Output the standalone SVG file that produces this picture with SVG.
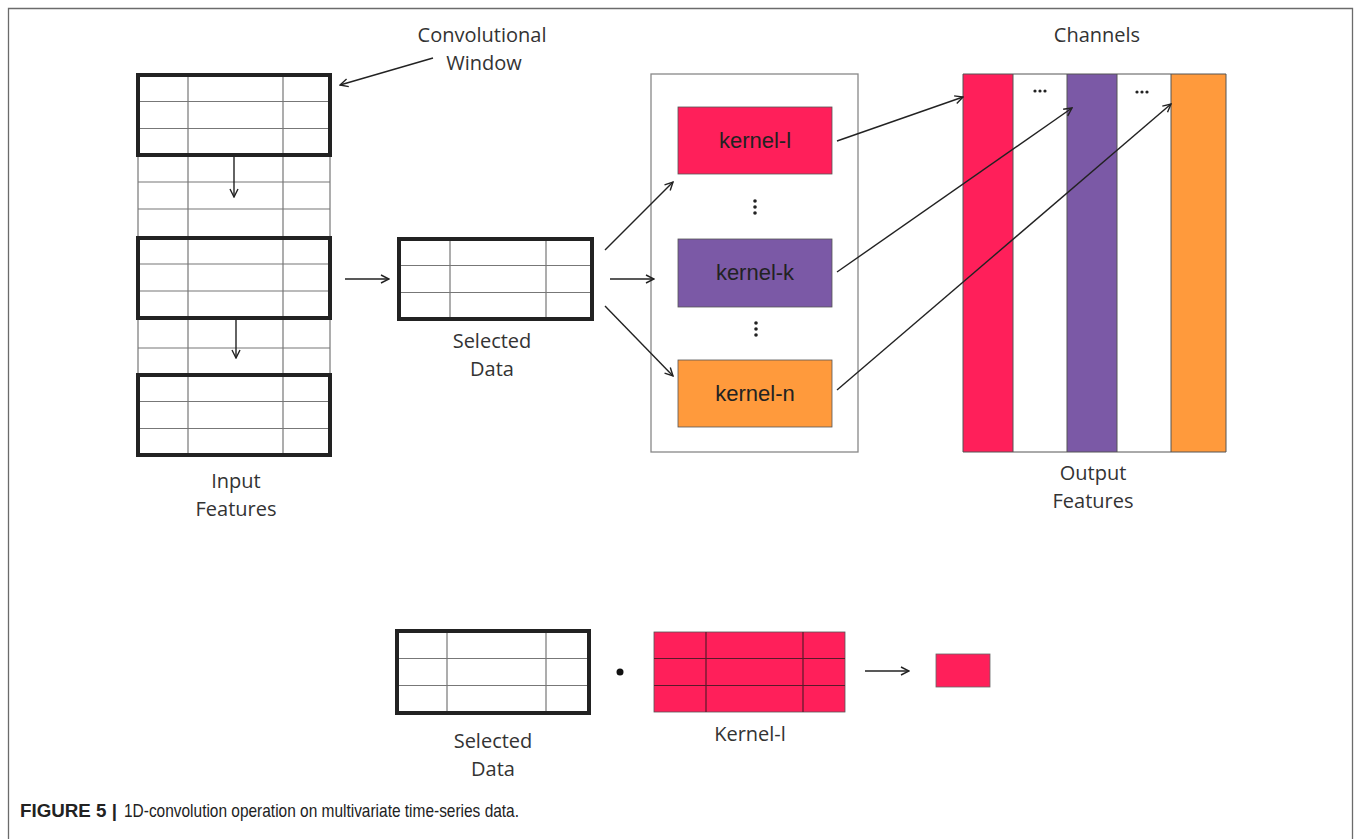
<svg xmlns="http://www.w3.org/2000/svg" width="1356" height="839" viewBox="0 0 1356 839">
<style>
.lbl{font-family:"Open Sans","Liberation Sans",sans-serif;font-size:20px;fill:#333;text-anchor:middle}
.kl{font-family:"Liberation Sans",Arial,sans-serif;font-size:22px;fill:#222;text-anchor:middle}
.grid{stroke:#777;stroke-width:1.2;fill:none}
.thick{stroke:#222;stroke-width:4;fill:none}
.conn{stroke:#222;stroke-width:1.4;fill:none;marker-end:url(#ah)}
.dots{fill:#222}
</style>
<defs>
<marker id="ah" viewBox="0 0 10 10" refX="9" refY="5" markerWidth="10" markerHeight="10" markerUnits="userSpaceOnUse" orient="auto">
<path d="M1,1 L9,5 L1,9" fill="none" stroke="#222" stroke-width="1.4"/>
</marker>
</defs>
<rect width="1356" height="839" fill="#fff"/>
<path d="M8.5,839 V8.5 H1352.5 V839" fill="none" stroke="#6b6b6b" stroke-width="1.3"/>

<g id="input-features">
<path class="grid" d="M138,75 V455 M188,75 V455 M283,75 V455 M330,75 V455 M138,101.5 H330 M138,128.5 H330 M138,182 H330 M138,209 H330 M138,264 H330 M138,291 H330 M138,348 H330 M138,401.5 H330 M138,428.5 H330"/>
<rect class="thick" x="138" y="75" width="192" height="80"/>
<rect class="thick" x="138" y="238" width="192" height="80"/>
<rect class="thick" x="138" y="375" width="192" height="80"/>
<text class="lbl" x="236" y="488">Input</text>
<text class="lbl" x="236" y="516">Features</text>
</g>

<g id="conv-window-label">
<text class="lbl" x="482" y="42">Convolutional</text>
<text class="lbl" x="484" y="70">Window</text>
</g>

<g id="selected-data">
<path class="grid" d="M450,240 V318 M546,240 V318 M400,265.5 H591 M400,292.5 H591"/>
<rect class="thick" x="399" y="239" width="193" height="80"/>
<text class="lbl" x="492" y="348">Selected</text>
<text class="lbl" x="492" y="376">Data</text>
</g>

<g id="kernel-box">
<rect x="651" y="74" width="207" height="378" fill="none" stroke="#888" stroke-width="1.3"/>
</g>
<g id="kernel-l">
<rect x="678" y="107" width="154" height="67" fill="#ff1f5a" stroke="#555" stroke-width="0.8"/>
<text class="kl" x="755" y="148">kernel-l</text>
</g>
<g id="kernel-k">
<rect x="678" y="239" width="154" height="68" fill="#7b59a6" stroke="#555" stroke-width="0.8"/>
<text class="kl" x="755" y="280">kernel-k</text>
</g>
<g id="kernel-n">
<rect x="678" y="360" width="154" height="67" fill="#ff9a3c" stroke="#555" stroke-width="0.8"/>
<text class="kl" x="755" y="401">kernel-n</text>
</g>
<g id="kernel-dots">
<circle class="dots" cx="755" cy="201" r="1.8"/><circle class="dots" cx="755" cy="207" r="1.8"/><circle class="dots" cx="755" cy="213" r="1.8"/>
<circle class="dots" cx="756" cy="323" r="1.8"/><circle class="dots" cx="756" cy="329" r="1.8"/><circle class="dots" cx="756" cy="335" r="1.8"/>
</g>

<g id="output-features">
<rect x="963" y="74" width="50" height="378" fill="#ff1f5a"/>
<rect x="1013" y="74" width="54" height="378" fill="#fff"/>
<rect x="1067" y="74" width="50" height="378" fill="#7b59a6"/>
<rect x="1117" y="74" width="54" height="378" fill="#fff"/>
<rect x="1171" y="74" width="55" height="378" fill="#ff9a3c"/>
<path d="M963,74 H1226 V452 H963 Z M1013,74 V452 M1067,74 V452 M1117,74 V452 M1171,74 V452" fill="none" stroke="#555" stroke-width="1"/>
<circle class="dots" cx="1035" cy="91" r="1.6"/><circle class="dots" cx="1040" cy="91" r="1.6"/><circle class="dots" cx="1045" cy="91" r="1.6"/>
<circle class="dots" cx="1137" cy="92" r="1.6"/><circle class="dots" cx="1142" cy="92" r="1.6"/><circle class="dots" cx="1147" cy="92" r="1.6"/>
<text class="lbl" x="1097" y="42">Channels</text>
<text class="lbl" x="1093" y="480">Output</text>
<text class="lbl" x="1093" y="508">Features</text>
</g>

<g id="connectors">
<path class="conn" d="M433,58 L340,85"/>
<path class="conn" d="M234,156 V197"/>
<path class="conn" d="M236,318 V358"/>
<path class="conn" d="M345,279 H389"/>
<path class="conn" d="M605,250 L673,182"/>
<path class="conn" d="M610,279 H654"/>
<path class="conn" d="M605,306 L673,376"/>
<path class="conn" d="M837,141 L963,97"/>
<path class="conn" d="M837,272 L1072,108"/>
<path class="conn" d="M837,390 L1171,104"/>
<path class="conn" d="M865,671 H909"/>
</g>

<g id="bottom-selected-data">
<path class="grid" d="M447,633 V711 M546,633 V711 M399,658.5 H587 M399,685.5 H587"/>
<rect class="thick" x="397" y="631" width="192" height="82"/>
<text class="lbl" x="493" y="748">Selected</text>
<text class="lbl" x="493" y="776">Data</text>
</g>
<g id="dot-product">
<circle cx="620" cy="672" r="3.5" fill="#111"/>
</g>
<g id="bottom-kernel-l">
<rect x="654" y="632" width="191" height="80" fill="#ff1f5a" stroke="#555" stroke-width="0.8"/>
<path d="M706,632 V712 M803,632 V712 M654,658.5 H845 M654,685.5 H845" stroke="#5a1a2a" stroke-width="1.2" fill="none"/>
<text class="lbl" x="750" y="741">Kernel-l</text>
</g>
<g id="result">
<rect x="936" y="654" width="54" height="33" fill="#ff1f5a" stroke="#666" stroke-width="0.8"/>
</g>

<g id="caption">
<text x="20" y="817" font-family="Liberation Sans, Arial, sans-serif" font-size="19" fill="#222"><tspan font-weight="bold" textLength="97" lengthAdjust="spacingAndGlyphs">FIGURE 5 |</tspan><tspan x="124" textLength="395" lengthAdjust="spacingAndGlyphs">1D-convolution operation on multivariate time-series data.</tspan></text>
</g>
</svg>
